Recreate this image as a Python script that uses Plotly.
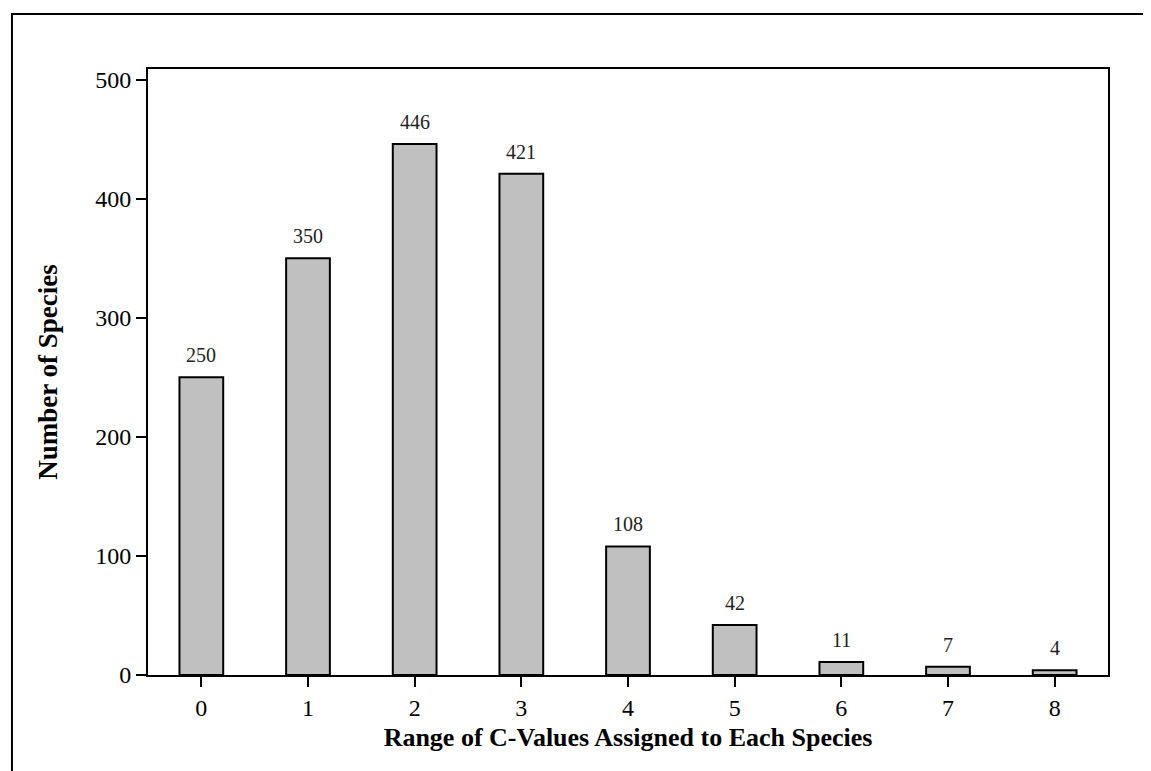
import plotly.graph_objects as go

categories = [0, 1, 2, 3, 4, 5, 6, 7, 8]
species_counts = [250, 350, 446, 421, 108, 42, 11, 7, 4]
x_tick_labels = ["0", "1", "2", "3", "4", "5", "6", "7", "8"]
y_tick_values = [0, 100, 200, 300, 400, 500]

FONT = "Liberation Serif, Times New Roman, serif"

fig = go.Figure()
fig.add_trace(go.Bar(
    x=categories,
    y=species_counts,
    width=0.41,
    marker=dict(color="#c0c0c0", line=dict(color="black", width=2)),
    showlegend=False,
    hoverinfo="skip",
))

for xv, yv in zip(categories, species_counts):
    fig.add_annotation(
        x=xv, y=yv, xref="x", yref="y",
        text=str(yv), showarrow=False,
        yanchor="bottom", yshift=9,
        font=dict(family=FONT, size=20, color="#222222"),
    )

fig.update_layout(
    width=1151, height=771,
    margin=dict(l=140, r=51, t=61, b=104),
    paper_bgcolor="white", plot_bgcolor="white",
    font=dict(family=FONT, color="black"),
    xaxis=dict(
        range=[-0.5, 8.5],
        tickmode="array", tickvals=categories, ticktext=x_tick_labels,
        ticks="outside", ticklen=10, tickwidth=2, tickcolor="black",
        showline=True, linecolor="black", linewidth=2, mirror=True,
        showgrid=False, zeroline=False,
        tickfont=dict(family=FONT, size=24, color="black"),
        title=dict(text="<b>Range of C-Values Assigned to Each Species</b>",
                   font=dict(family=FONT, size=26, color="black"), standoff=8),
    ),
    yaxis=dict(
        range=[0, 509],
        tickmode="array", tickvals=y_tick_values,
        ticks="outside", ticklen=10, tickwidth=2, tickcolor="black",
        showline=True, linecolor="black", linewidth=2, mirror=True,
        showgrid=False, zeroline=False,
        tickfont=dict(family=FONT, size=24, color="black"),
        title=dict(text="<b>Number of Species</b>",
                   font=dict(family=FONT, size=27, color="black"), standoff=30),
    ),
)

# Outer frame (top and left edges visible in reference)
fig.add_shape(type="rect", xref="paper", yref="paper",
              x0=-0.1417, y0=-0.5, x1=1.5, y1=1.0908,
              line=dict(color="black", width=2), fillcolor="rgba(0,0,0,0)",
              layer="below")

fig.write_html("out.html")
